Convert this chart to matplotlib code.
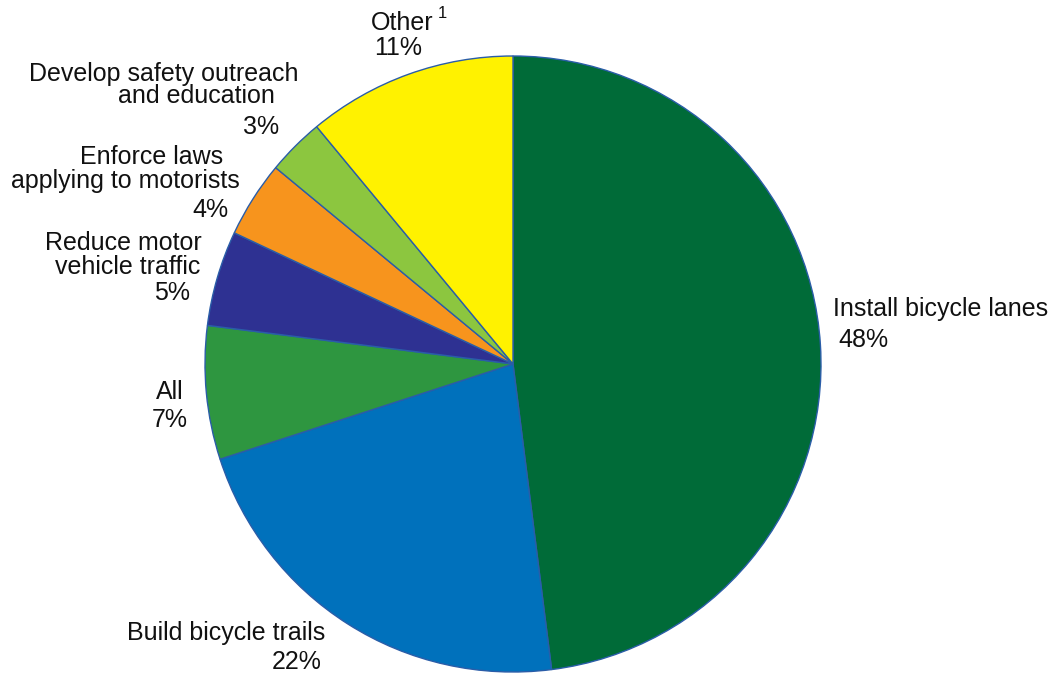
import matplotlib.pyplot as plt

plt.rcParams['font.family'] = ['Liberation Sans', 'DejaVu Sans']

# slices, clockwise from 12 o'clock
categories = ['Install bicycle lanes', 'Build bicycle trails', 'All',
              'Reduce motor vehicle traffic', 'Enforce laws applying to motorists',
              'Develop safety outreach and education', 'Other']
shares = [48, 22, 7, 5, 4, 3, 11]
colors = ['#006B38', '#0071BC', '#2E9640', '#2E3192', '#F7941D', '#8CC63F', '#FFF200']

# label lines: (text, x, y) in pixels from top-left, centred
label_lines = [
    ('Install bicycle lanes', 941, 309), ('48%', 863, 340),
    ('Build bicycle trails', 226, 633), ('22%', 297, 662),
    ('All', 170, 392), ('7%', 170, 420),
    ('Reduce motor', 123, 243), ('vehicle traffic', 128, 267), ('5%', 172, 293),
    ('Enforce laws', 152, 157), ('applying to motorists', 125, 181), ('4%', 210, 210),
    ('Develop safety outreach', 164, 74), ('and education', 196, 96), ('3%', 261, 127),
    ('Other', 402, 23), ('11%', 398, 48),
]

W, H = 1057, 675
fig = plt.figure(figsize=(W / 100, H / 100), dpi=100)
ax = fig.add_axes([0, 0, 1, 1])

ax.pie(shares, colors=colors, startangle=90, counterclock=False,
       center=(513, H - 364), radius=308,
       wedgeprops=dict(edgecolor='#2A5DA8', linewidth=1.0))

ax.set_xlim(0, W)
ax.set_ylim(0, H)
ax.set_aspect('equal')
ax.axis('off')

for txt, x, y in label_lines:
    ax.text(x, H - y, txt, fontsize=18, ha='center', va='center', color='#111111')
# footnote marker on "Other"
ax.text(442, H - 13, '1', fontsize=12, ha='center', va='center', color='#111111')

fig.savefig('out.png', dpi=100)
